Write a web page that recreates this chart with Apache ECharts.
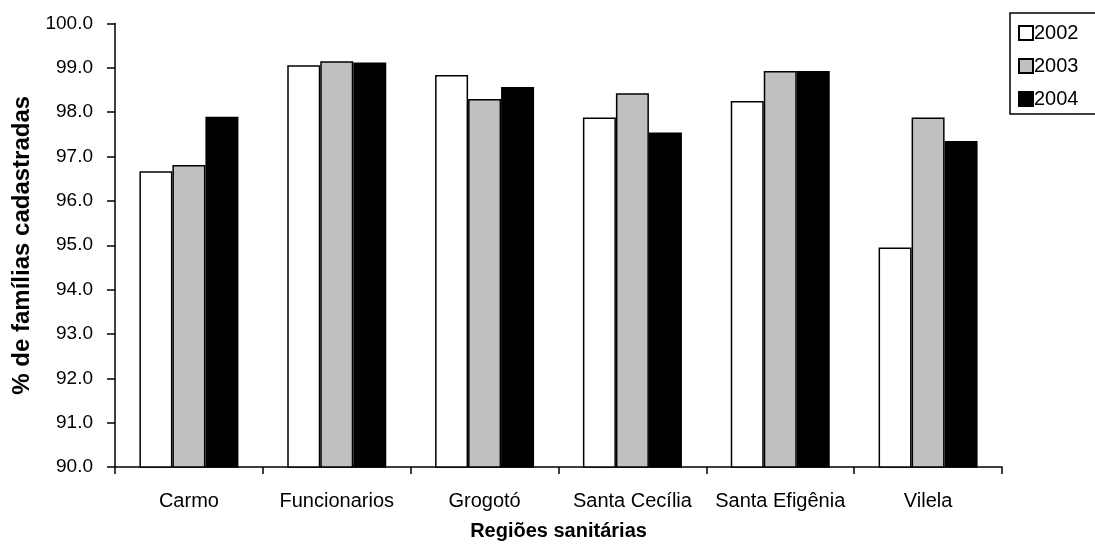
<!DOCTYPE html>
<html>
<head>
<meta charset="utf-8">
<script src="https://cdn.jsdelivr.net/npm/echarts@6/dist/echarts.min.js"></script>
<style>
  html, body { margin: 0; padding: 0; background: #fff; }
  #chart { width: 1095px; height: 545px; }
</style>
</head>
<body>
<div id="chart"></div>
<script>
// Percentage of registered families per health region, 2002–2004
const regions = ['Carmo', 'Funcionarios', 'Grogotó', 'Santa Cecília', 'Santa Efigênia', 'Vilela'];
const years = ['2002', '2003', '2004'];
const values2002 = [96.67, 99.06, 98.84, 97.88, 98.25, 94.95];
const values2003 = [96.81, 99.15, 98.30, 98.43, 98.93, 97.88];
const values2004 = [97.90, 99.12, 98.57, 97.54, 98.93, 97.35];
const yearColors = ['#ffffff', '#c0c0c0', '#000000'];

const FONT = '"Liberation Sans", Arial, sans-serif';
const seriesValues = [values2002, values2003, values2004];

const chart = echarts.init(document.getElementById('chart'), null, { renderer: 'canvas' });

chart.setOption({
  backgroundColor: '#ffffff',
  animation: false,
  grid: {
    left: 115, right: 93, top: 23.5, bottom: 78,
    containLabel: false,
    outerBoundsMode: 'none'
  },
  legend: {
    orient: 'vertical',
    left: 1010,
    top: 13,
    icon: 'rect',
    itemWidth: 14,
    itemHeight: 14,
    itemGap: 13,
    padding: [10, 30, 5, 8],
    borderColor: '#000',
    borderWidth: 1.5,
    borderRadius: 0,
    data: years,
    textStyle: { fontFamily: FONT, fontSize: 20, color: '#000', padding: [0, 0, 0, -4] }
  },
  xAxis: {
    type: 'category',
    data: regions,
    name: 'Regiões sanitárias',
    nameLocation: 'middle',
    nameGap: 54,
    nameTextStyle: { fontFamily: FONT, fontSize: 20, fontWeight: 'bold', color: '#000' },
    axisLine: { lineStyle: { color: '#000', width: 1.5 } },
    axisTick: { show: true, interval: 0, length: 7, lineStyle: { color: '#000', width: 1.5 } },
    axisLabel: { interval: 0, hideOverlap: false, fontFamily: FONT, fontSize: 20, color: '#000', margin: 24 },
    splitLine: { show: false }
  },
  yAxis: {
    type: 'value',
    min: 90,
    max: 100,
    interval: 1,
    name: '% de famílias cadastradas',
    nameLocation: 'middle',
    nameGap: 81,
    nameRotate: 90,
    nameTextStyle: { fontFamily: FONT, fontSize: 24, fontWeight: 'bold', color: '#000' },
    axisLine: { show: true, lineStyle: { color: '#000', width: 1.5 } },
    axisTick: { show: true, length: 8, lineStyle: { color: '#000', width: 1.5 } },
    axisLabel: {
      fontFamily: FONT, fontSize: 19, color: '#000', margin: 22,
      formatter: v => v.toFixed(1)
    },
    splitLine: { show: false }
  },
  series: years.map((y, i) => ({
    name: y,
    type: 'bar',
    data: seriesValues[i],
    barWidth: 33,
    barGap: '0%',
    itemStyle: { color: yearColors[i], borderColor: '#000', borderWidth: 1.5 },
    emphasis: { disabled: true }
  }))
});
</script>
</body>
</html>
